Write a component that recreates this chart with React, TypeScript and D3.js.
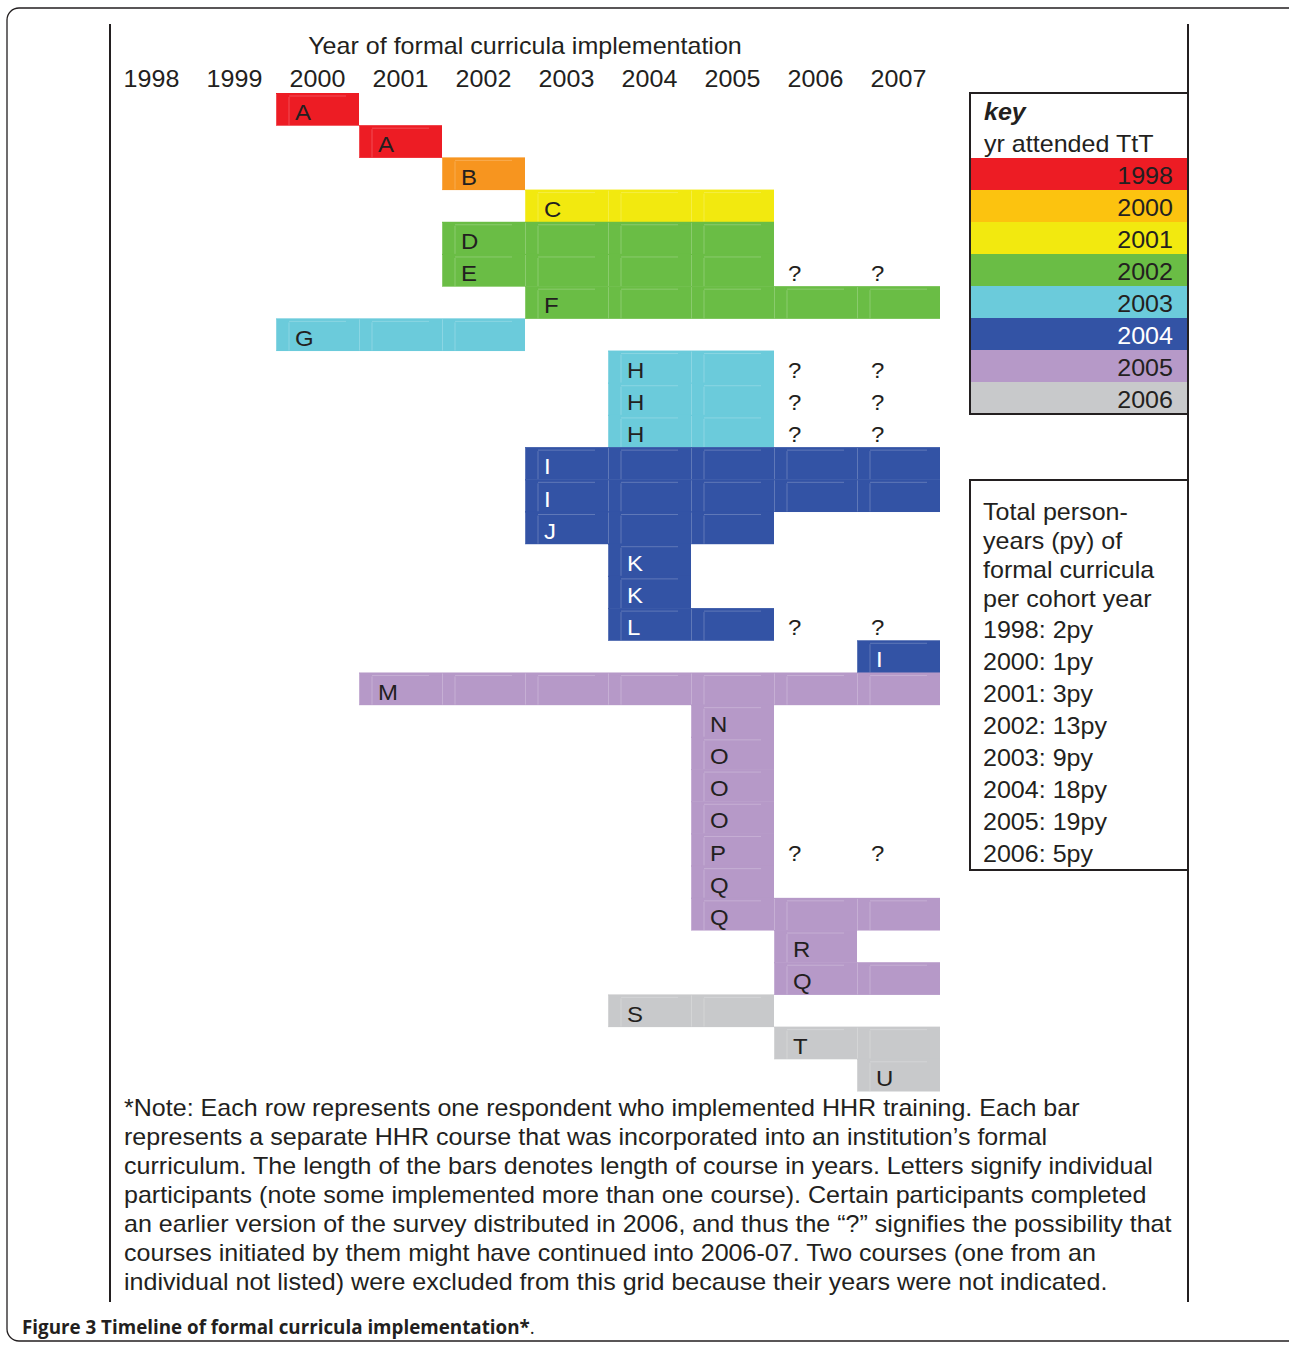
import React from "react";
import * as d3 from "d3";

// timeline columns
const years = [1998, 1999, 2000, 2001, 2002, 2003, 2004, 2005, 2006, 2007];

// one row per course: participant letter, first / last year, cohort (yr attended TtT)
const rowLetters = ["A", "A", "B", "C", "D", "E", "F", "G", "H", "H", "H", "I", "I", "J", "K", "K", "L", "I", "M", "N", "O", "O", "O", "P", "Q", "Q", "R", "Q", "S", "T", "U"];
const rowStart = [2000, 2001, 2002, 2003, 2002, 2002, 2003, 2000, 2004, 2004, 2004, 2003, 2003, 2003, 2004, 2004, 2004, 2007, 2001, 2005, 2005, 2005, 2005, 2005, 2005, 2005, 2006, 2006, 2004, 2006, 2007];
const rowEnd = [2000, 2001, 2002, 2005, 2005, 2005, 2007, 2002, 2005, 2005, 2005, 2007, 2007, 2005, 2004, 2004, 2005, 2007, 2007, 2005, 2005, 2005, 2005, 2005, 2005, 2007, 2006, 2007, 2005, 2007, 2007];
const rowCohort = [1998, 1998, 2000, 2001, 2002, 2002, 2002, 2003, 2003, 2003, 2003, 2004, 2004, 2004, 2004, 2004, 2004, 2004, 2005, 2005, 2005, 2005, 2005, 2005, 2005, 2005, 2005, 2005, 2006, 2006, 2006];
const rowUnsure = [false, false, false, false, false, true, false, false, true, true, true, false, false, false, false, false, true, false, false, false, false, false, false, true, false, false, false, false, false, false, false];
const unsureYears = [2006, 2007];

// key
const cohorts = [1998, 2000, 2001, 2002, 2003, 2004, 2005, 2006];
const keyColors = ["#ed1c24", "#fcc30f", "#f2e90f", "#6abd45", "#6bcbdb", "#3353a5", "#b699c8", "#c8c9cb"];
const barColors = ["#ed1c24", "#f7951f", "#f2e90f", "#6abd45", "#6bcbdb", "#3353a5", "#b699c8", "#c8c9cb"];

const totalsHead = ["Total person-", "years (py) of", "formal curricula", "per cohort year"];
const totalsPy = [2, 1, 3, 13, 9, 18, 19, 5];

const noteLines = [
  "*Note: Each row represents one respondent who implemented HHR training. Each bar",
  "represents a separate HHR course that was incorporated into an institution\u2019s formal",
  "curriculum. The length of the bars denotes length of course in years. Letters signify individual",
  "participants (note some implemented more than one course). Certain participants completed",
  "an earlier version of the survey distributed in 2006, and thus the \u201c?\u201d signifies the possibility that",
  "courses initiated by them might have continued into 2006-07. Two courses (one from an",
  "individual not listed) were excluded from this grid because their years were not indicated.",
];

const W = 1289;
const H = 1345;
const ink = "#231f20";
const font = '"Liberation Sans", Arimo, Arial, Helvetica, sans-serif';
const stretch = 1.09; // original lettering is a bit wider than what we have

function T(props: { x: number; y: number; size?: number; fill?: string; anchor?: string; bold?: boolean; italic?: boolean; children: React.ReactNode }) {
  return (
    <text
      transform={`translate(${props.x},${props.y}) scale(${stretch},1)`}
      fontSize={props.size ?? 23}
      fill={props.fill ?? ink}
      textAnchor={props.anchor ?? "start"}
      fontWeight={props.bold ? "bold" : "normal"}
      fontStyle={props.italic ? "italic" : "normal"}
      style={{ fontFamily: font }}
    >
      {props.children}
    </text>
  );
}

export default function App() {
  const x = d3.scaleBand<number>().domain(years).range([110, 940]);
  const y = d3.scaleBand<number>().domain(d3.range(rowLetters.length)).range([93, 1091]);
  const bar = d3.scaleOrdinal<number, string>().domain(cohorts).range(barColors);
  const key = d3.scaleOrdinal<number, string>().domain(cohorts).range(keyColors);
  const keyY = d3.scaleBand<number>().domain(cohorts).range([158, 414]);
  const cw = x.bandwidth();
  const rh = y.bandwidth();

  return (
    <svg width={W} height={H} style={{ position: "absolute", left: 0, top: 0, background: "#fff", fontFamily: font }}>
      <rect x={7} y={8} width={W + 20} height={H - 12} rx={12} fill="none" stroke={ink} strokeWidth={1.3} />
      <line x1={110} x2={110} y1={24} y2={1302} stroke={ink} strokeWidth={2} />
      <line x1={1188} x2={1188} y1={24} y2={1302} stroke={ink} strokeWidth={2} />

      <T x={525} y={54} anchor="middle">Year of formal curricula implementation</T>
      {years.map((yr) => (
        <T key={yr} x={x(yr)! + cw / 2} y={87} anchor="middle">{yr}</T>
      ))}

      {rowLetters.map((letter, i) => {
        const span = years.filter((yr) => yr >= rowStart[i] && yr <= rowEnd[i]);
        const y0 = y(i)!;
        const col = bar(rowCohort[i]);
        const x0 = x(rowStart[i])!;
        const dark = rowCohort[i] === 2004;
        return (
          <g key={i}>
            <rect x={x0} y={y0} width={x(rowEnd[i])! + cw - x0} height={rh + 0.5} fill={col} />
            {span.map((yr) => (
              <path
                key={yr}
                d={`M${x(yr)! + 0.5},${y0 + 1}V${y0 + rh}M${x(yr)! + 13},${y0 + 4}V${y0 + rh}M${x(yr)! + 13},${y0 + 3}H${x(yr)! + 70}`}
                stroke="#fff"
                strokeOpacity={0.22}
                strokeWidth={1}
                fill="none"
              />
            ))}
            <T x={x0 + 19} y={y0 + rh - 5} size={22} fill={dark ? "#fff" : ink}>{letter}</T>
            {rowUnsure[i] &&
              unsureYears.map((yr) => (
                <T key={yr} x={x(yr)! + 14} y={y0 + rh - 5} size={22}>?</T>
              ))}
          </g>
        );
      })}

      {/* key box */}
      <rect x={970} y={93} width={218} height={321} fill="#fff" stroke={ink} strokeWidth={2} />
      <T x={984} y={120} bold italic>key</T>
      <T x={984} y={152}>yr attended TtT</T>
      {cohorts.map((c) => (
        <g key={c}>
          <rect x={971} y={keyY(c)!} width={216} height={keyY.bandwidth() + 0.5} fill={key(c)} />
          <T x={1173} y={keyY(c)! + keyY.bandwidth() - 6} anchor="end" fill={c === 2004 ? "#fff" : ink}>{c}</T>
        </g>
      ))}
      <rect x={970} y={93} width={218} height={321} fill="none" stroke={ink} strokeWidth={2} />

      {/* totals box */}
      <rect x={970} y={480} width={218} height={390} fill="#fff" stroke={ink} strokeWidth={2} />
      {totalsHead.map((t, i) => (
        <T key={t} x={983} y={520 + i * 29}>{t}</T>
      ))}
      {cohorts.map((c, i) => (
        <T key={c} x={983} y={638 + i * 32}>{`${c}: ${totalsPy[i]}py`}</T>
      ))}

      {noteLines.map((t, i) => (
        <T key={i} x={124} y={1116 + i * 29}>{t}</T>
      ))}

      <text x={22} y={1334} fontSize={18.8} fill={ink} style={{ fontFamily: "'Open Sans', 'Noto Sans', sans-serif" }}>
        <tspan fontWeight="bold">Figure 3 Timeline of formal curricula implementation*</tspan>.
      </text>
    </svg>
  );
}
